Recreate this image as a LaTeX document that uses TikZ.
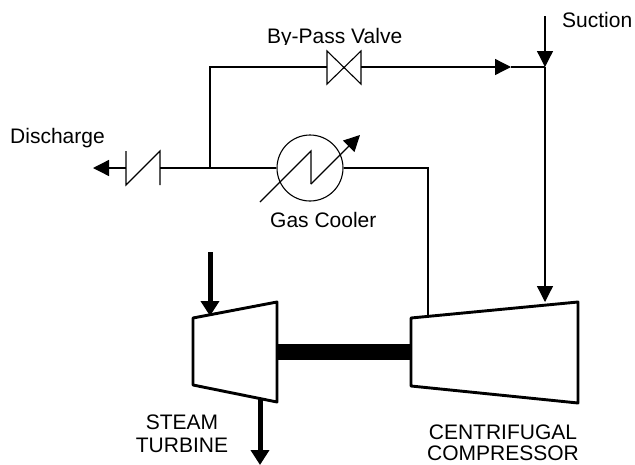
\documentclass[tikz,border=0pt]{standalone}
\usepackage{fontspec}
\setmainfont{Liberation Sans}
\usetikzlibrary{arrows.meta}
\tikzset{
  pipe/.style={line width=1.3pt,line join=miter},
  thinsym/.style={line width=1.1pt,line join=miter},
  machine/.style={line width=2.9pt,line join=round,fill=white},
  lbl/.style={font=\fontsize{21}{23}\selectfont,inner sep=0pt,anchor=base west},
  lblc/.style={font=\fontsize{21}{23}\selectfont,inner sep=0pt,anchor=base},
  tipa/.style={-{Triangle[length=16pt,width=16pt]}},
  heavy/.style={line width=5pt,-{Triangle[length=15pt,width=18pt]}},
}
\begin{document}
\begin{tikzpicture}[x=1pt,y=-1pt]
\useasboundingbox (0,0) rectangle (635,464);
% junctions and free ends
\coordinate (suctop) at (545,16);
\coordinate (sucj) at (545,67);
\coordinate (compin) at (545,302);
\coordinate (teeT) at (210,67);
\coordinate (teeB) at (210,168);
\coordinate (compout) at (428,316);
\coordinate (compcorner) at (428,168);
\coordinate (disend) at (93,168);
\coordinate (stin) at (210,252);
\coordinate (stintip) at (210,316);
\coordinate (stout) at (260,399);
\coordinate (stouttip) at (260,465);
\coordinate (bypmid) at (511,67);
% valve
\coordinate (vl) at (327,67);
\coordinate (vr) at (361,67);
\draw[thinsym] (327,51) -- (361,84) -- (361,51) -- (327,84) -- cycle;
% check valve
\coordinate (cl) at (126,168);
\coordinate (cr) at (160,168);
\draw[thinsym] (126,151) -- (126,185) -- (160,151) -- (160,185);
% cooler
\node[circle,draw,line width=1.1pt,minimum size=66pt,inner sep=0pt] (cooler) at (310,168) {};
\draw[thinsym] (260,202) -- (311,151) -- (311,184);
\draw[thinsym,tipa] (311,184) -- (360,135);
% pipes
\draw[pipe] (teeB) -- (teeT) -- (vl);
\draw[pipe,tipa] (vr) -- (bypmid);
\draw[pipe] (bypmid) -- (sucj);
\draw[pipe,tipa] (suctop) -- (sucj);
\draw[pipe,tipa] (sucj) -- (compin);
\draw[pipe] (cr) -- (teeB) -- (cooler.west);
\draw[pipe] (cooler.east) -- (compcorner) -- (compout);
\draw[pipe,tipa] (cl) -- (disend);
% shaft
\draw[line width=16pt] (277,352) -- (411,352);
% machines
\draw[machine] (193,318) -- (277,302) -- (277,402) -- (193,385) -- cycle;
\draw[machine] (411,318) -- (578,302) -- (578,403) -- (411,386) -- cycle;
% steam arrows
\draw[heavy] (stin) -- (stintip);
\draw[heavy] (stout) -- (stouttip);
% labels
\node[lbl] (dis) at (10,143) {Discharge};
\node[lbl] (suc) at (562,27) {Suction};
\begin{scope}
\clip (200,0) rectangle (480,44);
\node[lbl] (byp) at (267,43) {By-Pass Valve};
\end{scope}
\node[lbl] (gas) at (270,227) {Gas Cooler};
\node[lblc] (st1) at (182,429) {STEAM};
\node[lblc] (st2) at (182,452) {TURBINE};
\node[lblc] (cc1) at (503,439) {CENTRIFUGAL};
\node[lblc] (cc2) at (503,460.5) {COMPRESSOR};
\end{tikzpicture}
\end{document}
